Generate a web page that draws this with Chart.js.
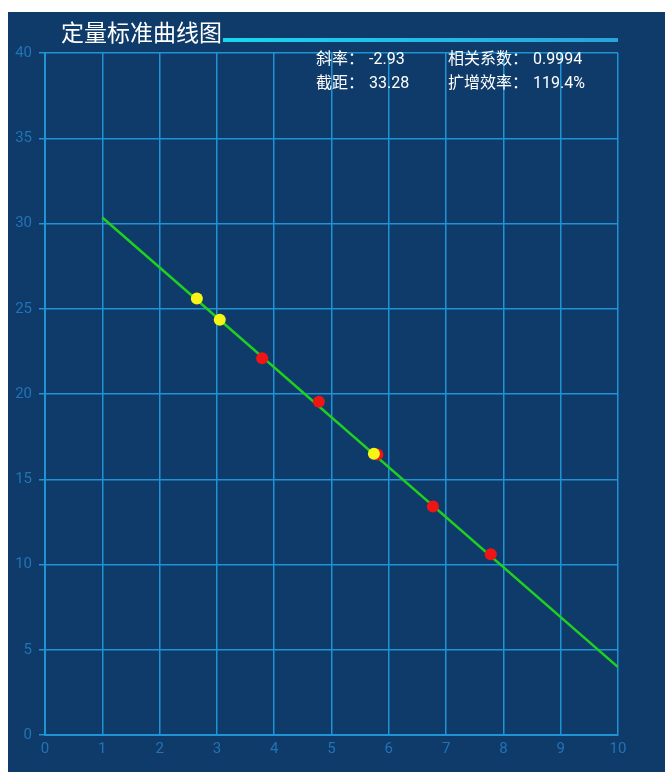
<!DOCTYPE html>
<html>
<head>
<meta charset="utf-8">
<script src="https://cdn.jsdelivr.net/npm/chart.js@4/dist/chart.umd.min.js"></script>
<style>
  html, body { margin: 0; padding: 0; background: #ffffff; }
  body { width: 665px; height: 772px; position: relative; overflow: hidden; }
  #panel { position: absolute; left: 8px; top: 12px; width: 657px; height: 760px; background: #0f3b6a; }
  #chart { display: block; }
</style>
</head>
<body>
<div id="panel"><canvas id="chart" width="657" height="760"></canvas></div>
<script>
// Standard curve: Ct values of the standards vs. log concentration
const titleText = '定量标准曲线图';
const slope = -2.93;
const intercept = 33.28;
const correlation = 0.9994;
const efficiency = 119.4;

const fitRange = [1, 10];

const yellowX = [2.65, 3.05, 5.74];
const yellowY = [25.6, 24.35, 16.5];

const redX = [3.79, 4.78, 5.8, 6.77, 7.78];
const redY = [22.1, 19.55, 16.45, 13.4, 10.6];

const xTickValues = [0, 1, 2, 3, 4, 5, 6, 7, 8, 9, 10];
const yTickValues = [0, 5, 10, 15, 20, 25, 30, 35, 40];

const toPoints = (xs, ys) => xs.map((x, i) => ({ x: x, y: ys[i] }));
const fitLine = fitRange.map(x => ({ x: x, y: intercept + slope * x }));

const gridColor = '#1f93d3';
const tickColor = '#2273b6';

const headerPlugin = {
  id: 'header',
  afterDraw(chart) {
    const ctx = chart.ctx;
    const area = chart.chartArea;
    ctx.save();
    // title
    ctx.font = '23px "Noto Sans CJK SC", sans-serif';
    ctx.fillStyle = '#ffffff';
    ctx.textBaseline = 'alphabetic';
    ctx.textAlign = 'left';
    ctx.fillText(titleText, 53, 29);
    const tw = ctx.measureText(titleText).width;
    // underline bar to the right of the title
    const x0 = 53 + tw + 1, x1 = area.right;
    const g = ctx.createLinearGradient(x0, 0, x1, 0);
    g.addColorStop(0, '#19d6f2');
    g.addColorStop(1, '#2ba2dc');
    ctx.fillStyle = g;
    ctx.fillRect(x0, 26, x1 - x0, 4);
    // regression statistics: label, then value after a small gap
    ctx.font = '16px Roboto, "Noto Sans CJK SC", sans-serif';
    ctx.fillStyle = '#ffffff';
    ctx.textBaseline = 'middle';
    const stat = (label, value, x, y) => {
      ctx.fillText(label, x, y);
      ctx.fillText(value, x + ctx.measureText(label).width + 5, y);
    };
    stat('斜率：', slope.toFixed(2), 308, 48);
    stat('截距：', intercept.toFixed(2), 308, 72);
    stat('相关系数：', correlation.toFixed(4), 440, 48);
    stat('扩增效率：', efficiency.toFixed(1) + '%', 440, 72);
    ctx.restore();
  }
};

new Chart(document.getElementById('chart'), {
  type: 'scatter',
  data: {
    datasets: [
      {
        type: 'line',
        data: fitLine,
        borderColor: '#1fd01f',
        borderWidth: 2.5,
        pointRadius: 0,
        fill: false,
        order: 3
      },
      {
        data: toPoints(redX, redY),
        backgroundColor: '#f01515',
        borderColor: '#f01515',
        borderWidth: 0,
        pointRadius: 6,
        order: 2
      },
      {
        data: toPoints(yellowX, yellowY),
        backgroundColor: '#f7f516',
        borderColor: '#f7f516',
        borderWidth: 0,
        pointRadius: 6,
        order: 1
      }
    ]
  },
  options: {
    responsive: false,
    devicePixelRatio: 1,
    animation: false,
    layout: { padding: { top: 41, right: 47, bottom: 7, left: 0 } },
    plugins: { legend: { display: false }, tooltip: { enabled: false } },
    scales: {
      x: {
        type: 'linear',
        min: 0, max: 10,
        afterBuildTicks(scale) { scale.ticks = xTickValues.map(v => ({ value: v })); },
        afterFit(scale) { scale.height = 30; },
        grid: { color: gridColor, lineWidth: 1.5, drawTicks: false },
        border: { color: gridColor, width: 2 },
        ticks: { color: tickColor, padding: 5, font: { family: 'Roboto', size: 15 } }
      },
      y: {
        type: 'linear',
        min: 0, max: 40,
        afterBuildTicks(scale) { scale.ticks = yTickValues.map(v => ({ value: v })); },
        afterFit(scale) { scale.width = 37; },
        grid: { color: gridColor, lineWidth: 1.5, tickLength: 6 },
        border: { color: gridColor, width: 2 },
        ticks: { color: tickColor, padding: 7, font: { family: 'Roboto', size: 15 } }
      }
    }
  },
  plugins: [headerPlugin]
});
</script>
</body>
</html>
